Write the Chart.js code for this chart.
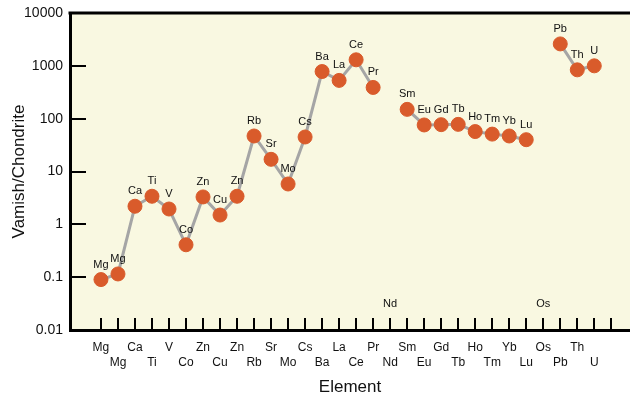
<!DOCTYPE html>
<html>
<head>
<meta charset="utf-8">
<script src="https://cdn.jsdelivr.net/npm/chart.js@4.4.0/dist/chart.umd.min.js"></script>
<style>
  body { margin: 0; background: #fff; }
</style>
</head>
<body>
<canvas id="myChart" width="630" height="393"></canvas>
<script>
  // data
  const elements = ['Mg', 'Mg', 'Ca', 'Ti', 'V', 'Co', 'Zn', 'Cu', 'Zn', 'Rb', 'Sr', 'Mo', 'Cs', 'Ba', 'La',
    'Ce', 'Pr', 'Nd', 'Sm', 'Eu', 'Gd', 'Tb', 'Ho', 'Tm', 'Yb', 'Lu', 'Os', 'Pb', 'Th', 'U'];
  const ratios = [0.09, 0.115, 2.2, 3.4, 1.95, 0.41, 3.3, 1.5, 3.4, 47, 17, 5.8, 45, 780, 530,
    1300, 390, null, 150, 76, 77, 78, 57, 51, 47, 40, null, 2600, 840, 1000];
  const yTicks = [0.01, 0.1, 1, 10, 100, 1000, 10000];
  const ndLevel = 0.016; // height of the labels for elements with no value

  Chart.defaults.font.family = "'Liberation Sans', Arial, sans-serif";
  Chart.defaults.color = '#111';

  // plot background, inner tick marks, top frame line, point labels
  const extras = {
    id: 'extras',
    beforeDraw(chart) {
      const {ctx, chartArea: a} = chart;
      ctx.save();
      ctx.fillStyle = '#f9f8e1';
      ctx.fillRect(a.left, a.top, a.right - a.left, a.bottom - a.top);
      ctx.restore();
    },
    afterDatasetsDraw(chart) {
      const {ctx, chartArea: a, scales: {x, y}} = chart;
      ctx.save();
      ctx.strokeStyle = '#000';
      ctx.lineWidth = 2;
      ctx.beginPath();
      yTicks.slice(1, -1).forEach(v => {
        const py = Math.round(y.getPixelForValue(v));
        ctx.moveTo(a.left, py);
        ctx.lineTo(a.left + 16, py);
      });
      for (let i = 0; i <= elements.length; i++) {
        const px = Math.round(x.getPixelForValue(i));
        ctx.moveTo(px, a.bottom);
        ctx.lineTo(px, a.bottom - 12);
      }
      ctx.stroke();

      ctx.lineWidth = 3;
      ctx.beginPath();
      ctx.moveTo(a.left - 1.5, a.top);
      ctx.lineTo(a.right, a.top);
      ctx.stroke();

      ctx.fillStyle = '#111';
      ctx.font = "11px 'Liberation Sans', Arial, sans-serif";
      ctx.textAlign = 'center';
      ctx.textBaseline = 'middle';
      const meta = chart.getDatasetMeta(0);
      elements.forEach((el, i) => {
        if (ratios[i] == null) {
          ctx.fillText(el, x.getPixelForValue(i), y.getPixelForValue(ndLevel) - 15);
        } else {
          const pt = meta.data[i];
          ctx.fillText(el, pt.x, pt.y - 15);
        }
      });
      ctx.restore();
    }
  };

  const config = {
    type: 'line',
    data: {
      datasets: [{
        data: ratios.map((v, i) => ({x: i, y: v})),
        borderColor: '#a5a5a5',
        borderWidth: 3,
        backgroundColor: '#d95b2b',
        pointBackgroundColor: '#d95b2b',
        pointBorderColor: '#d95b2b',
        pointBorderWidth: 1,
        pointRadius: 7,
        spanGaps: false,
        tension: 0
      }]
    },
    options: {
      responsive: false,
      animation: false,
      layout: { autoPadding: false, padding: { top: 13, right: 0, left: 0, bottom: 0 } },
      plugins: { legend: { display: false }, tooltip: { enabled: false } },
      scales: {
        x: {
          type: 'linear',
          min: -1.82,
          max: 31.1,
          afterFit: s => { s.height = 63; s.paddingLeft = 0; s.paddingRight = 0; },
          afterBuildTicks: s => { s.ticks = elements.map((_, i) => ({value: i})); },
          grid: { display: false, drawTicks: false },
          border: { display: true, color: '#000', width: 3 },
          ticks: {
            autoSkip: false,
            maxRotation: 0,
            padding: 10,
            font: { size: 12, lineHeight: 1.25 },
            callback: v => i2label(v)
          },
          title: {
            display: true,
            text: 'Element',
            font: { size: 17, lineHeight: 0.65 },
            padding: { top: 0, bottom: 0 }
          }
        },
        y: {
          type: 'logarithmic',
          min: 0.01,
          max: 10000,
          afterFit: s => { s.width = 70; s.paddingTop = 0; s.paddingBottom = 0; },
          afterBuildTicks: s => { s.ticks = yTicks.map(v => ({value: v})); },
          grid: { display: false, drawTicks: false },
          border: { display: true, color: '#000', width: 3 },
          ticks: {
            padding: 7,
            font: { size: 14 },
            callback: v => String(v)
          },
          title: {
            display: true,
            text: 'Vamish/Chondrite',
            font: { size: 17, lineHeight: 1 },
            padding: { top: 11, bottom: 0 }
          }
        }
      }
    },
    plugins: [extras]
  };

  function i2label(v) {
    const name = elements[v];
    if (name === undefined) return '';
    return v % 2 === 0 ? [name, ''] : ['', name];
  }

  const myChart = new Chart(document.getElementById('myChart'), config);
</script>
</body>
</html>
